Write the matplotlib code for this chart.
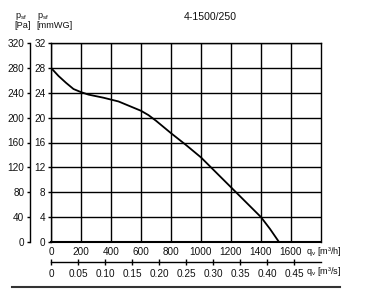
import matplotlib
matplotlib.use("Agg")
import matplotlib.pyplot as plt
import numpy as np

# Data
flow_m3h = [0, 50, 100, 150, 200, 250, 300, 350, 400, 450, 500, 550, 600, 650, 700, 750,
            800, 900, 1000, 1100, 1200, 1300, 1400, 1460, 1520]
press_mmwg = [28, 26.7, 25.6, 24.6, 24.1, 23.7, 23.45, 23.2, 22.9, 22.6, 22.1, 21.6, 21.1,
              20.4, 19.5, 18.5, 17.5, 15.6, 13.6, 11.2, 8.8, 6.4, 4.0, 2.1, 0]
x_ticks_m3h = [0, 200, 400, 600, 800, 1000, 1200, 1400, 1600]
y_ticks_mmwg = [0, 4, 8, 12, 16, 20, 24, 28, 32]
y_ticks_pa = [0, 40, 80, 120, 160, 200, 240, 280, 320]
x_ticks_m3s = [0, 0.05, 0.10, 0.15, 0.20, 0.25, 0.30, 0.35, 0.40, 0.45]
x_ticklabels_m3s = ["0", "0.05", "0.10", "0.15", "0.20", "0.25", "0.30", "0.35", "0.40", "0.45"]
title = "4-1500/250"

plt.rcParams['font.family'] = ['Liberation Sans Narrow', 'Liberation Sans', 'DejaVu Sans']
plt.rcParams['mathtext.fontset'] = 'custom'
plt.rcParams['mathtext.rm'] = 'Liberation Sans'
W, H = 368, 298
fig = plt.figure(figsize=(W/100, H/100), dpi=100)
txt = '#111111'
fs = 7.2

L, R, T, B = 51, 321, 43, 242
ax = fig.add_axes([L/W, 1-B/H, (R-L)/W, (B-T)/H])
ax.set_xlim(0, 1800)
ax.set_ylim(0, 32)
ax.set_xticks(x_ticks_m3h)
ax.set_xticklabels([str(v) for v in x_ticks_m3h], fontsize=fs, color=txt)
ax.set_yticks(y_ticks_mmwg)
ax.set_yticklabels([str(v) for v in y_ticks_mmwg], fontsize=fs, color=txt)
ax.tick_params(axis='x', length=0, pad=3.5)
ax.tick_params(axis='y', length=2, width=1, pad=2)
ax.grid(True, color='black', linewidth=1)
ax.set_axisbelow(True)
for s in ax.spines.values():
    s.set_linewidth(1)
ax.spines['bottom'].set_linewidth(1.5)
ax.plot(flow_m3h, press_mmwg, color='black', linewidth=1.3, zorder=5)

# Pa axis
axp = fig.add_axes([30/W, 1-B/H, 0.001, (B-T)/H])
axp.set_ylim(0, 320)
axp.set_yticks(y_ticks_pa)
axp.set_yticklabels([str(v) for v in y_ticks_pa], fontsize=fs, color=txt)
axp.tick_params(axis='y', length=2, width=1, pad=2)
axp.set_xticks([])
for k in ['top', 'right', 'bottom']:
    axp.spines[k].set_visible(False)
axp.spines['left'].set_linewidth(1)
axp.patch.set_visible(False)

# m3/s axis
axs = fig.add_axes([L/W, 1-262/H, (R-L)/W, 0.001])
axs.set_xlim(0, 0.5)
axs.set_xticks(x_ticks_m3s)
axs.set_xticklabels(x_ticklabels_m3s, fontsize=fs, color=txt)
axs.tick_params(axis='x', direction='inout', length=4, width=1, pad=3)
axs.set_yticks([])
for k in ['top', 'right', 'left']:
    axs.spines[k].set_visible(False)
axs.spines['bottom'].set_linewidth(1)
axs.patch.set_visible(False)

fs2 = 6.6
fig.text(306/W, 1-251/H, r"q$_\mathregular{v}$ [m³/h]", fontsize=fs2, color=txt, va='center', ha='left')
fig.text(306/W, 1-271/H, r"q$_\mathregular{v}$ [m³/s]", fontsize=fs2, color=txt, va='center', ha='left')

fig.text(15/W, 1-16/H, r"p$_\mathregular{sf}$", fontsize=fs2, color=txt, va='center', ha='left')
fig.text(14/W, 1-26/H, "[Pa]", fontsize=fs2, color=txt, va='center', ha='left')
fig.text(37/W, 1-16/H, r"p$_\mathregular{sf}$", fontsize=fs2, color=txt, va='center', ha='left')
fig.text(36/W, 1-26/H, "[mmWG]", fontsize=fs2, color=txt, va='center', ha='left')
fig.text(210/W, 1-17/H, title, fontsize=7.6, color=txt, va='center', ha='center')

# bottom rule
fig.add_artist(plt.Line2D([12/W, 340/W], [1-287/H, 1-287/H], color='#333333', linewidth=1.5))

fig.savefig('out.png', dpi=100)
